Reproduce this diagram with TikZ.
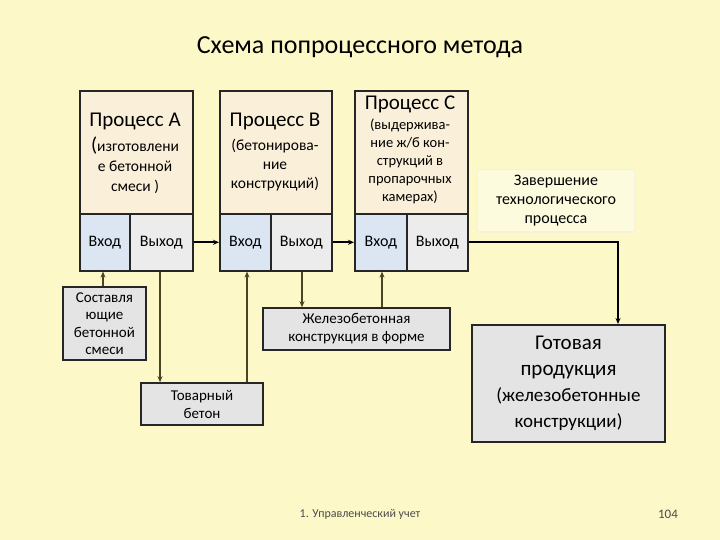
\documentclass[tikz,border=0pt]{standalone}
\usepackage{fontspec}
\setmainfont{Carlito}
\usetikzlibrary{arrows.meta}
\definecolor{bg}{HTML}{FCF8C8}
\definecolor{beige}{HTML}{FAEFD8}
\definecolor{inb}{HTML}{DCE6F2}
\definecolor{outg}{HTML}{ECECEC}
\definecolor{marble}{HTML}{E4E4E4}
\definecolor{olive}{HTML}{4A4520}
\begin{document}
\begin{tikzpicture}[x=1pt,y=-1pt,
 box/.style={draw=black!85,line width=1.6pt,inner sep=0pt},
 top/.style={box,fill=beige,align=center},
 io/.style={box,font=\fontsize{16}{18}\selectfont},
 mb/.style={box,fill=marble,align=center},
 con/.style={olive,line width=1.8pt,-{Stealth[length=6pt,width=5pt]}}]
\fill[bg] (0,0) rectangle (720,540);
\useasboundingbox (0,0) rectangle (720,540);
\node[font=\fontsize{26}{30}\selectfont] (title) at (360,47) {Схема попроцессного метода};
% Process A
\node[top,minimum width=113pt,minimum height=123pt,anchor=north west] (A) at (79,90) {};
\node[align=center,font=\fontsize{15.5}{20}\selectfont] (At) at (135,153) {{\fontsize{21}{24}\selectfont Процесс А}\\[5pt] {\fontsize{20}{20}\selectfont(}изготовлени\\е бетонной\\смеси )};
\node[io,fill=inb,minimum width=50pt,minimum height=57pt,anchor=north west] (Ai) at (79,213) {Вход};
\node[io,fill=outg,minimum width=63pt,minimum height=57pt,anchor=north west] (Ao) at (129,213) {Выход};
% Process B
\node[top,minimum width=112pt,minimum height=123pt,anchor=north west] (B) at (219,90) {};
\node[align=center,font=\fontsize{15.5}{19}\selectfont] (Bt) at (275,152) {{\fontsize{21}{24}\selectfont Процесс В}\\[5pt] (бетонирова-\\ние\\конструкций)};
\node[io,fill=inb,minimum width=51pt,minimum height=57pt,anchor=north west] (Bi) at (219,213) {Вход};
\node[io,fill=outg,minimum width=61pt,minimum height=57pt,anchor=north west] (Bo) at (270,213) {Выход};
% Process C
\node[top,minimum width=113pt,minimum height=123pt,anchor=north west] (C) at (354,90) {};
\node[align=center,font=\fontsize{14.5}{18}\selectfont] (Ct) at (410,150) {{\fontsize{21}{24}\selectfont Процесс С}\\[2pt] (выдержива-\\ние ж/б кон-\\струкций в\\пропарочных\\камерах)};
\node[io,fill=inb,minimum width=52pt,minimum height=57pt,anchor=north west] (Ci) at (354,213) {Вход};
\node[io,fill=outg,minimum width=61pt,minimum height=57pt,anchor=north west] (Co) at (406,213) {Выход};
% others
\node[draw=beige,fill=bg!60!white,line width=1pt,minimum width=157pt,minimum height=62pt,align=center,font=\fontsize{16}{19}\selectfont] (Z) at (556,201) {Завершение\\технологического\\процесса};
\node[mb,minimum width=83pt,minimum height=73pt,font=\fontsize{15}{17.5}\selectfont] (S) at (104.5,323.5) {Составля\\ющие\\бетонной\\смеси};
\node[mb,minimum width=122pt,minimum height=42pt,font=\fontsize{15}{18}\selectfont] (T) at (202,404) {Товарный\\бетон};
\node[mb,minimum width=187pt,minimum height=42pt,font=\fontsize{15}{18}\selectfont] (Zh) at (356.5,329) {Железобетонная\\конструкция в форме};
\node[mb,minimum width=193pt,minimum height=117pt,line width=2pt,font=\fontsize{21}{26}\selectfont] (G) at (568.5,383.5) {Готовая\\продукция\\{\fontsize{19}{23}\selectfont(железобетонные}\\{\fontsize{19}{23}\selectfont конструкции)}};
% connectors
\draw[con,black] (Ao.east) -- (Bi.west);
\draw[con,black] (Bo.east) -- (Ci.west);
\draw[con,black] (Co.east) -| (G.north -| 618,0);
\draw[con] (S.north -| 103,0) -- (Ai.south -| 103,0);
\draw[con] (Ao.south -| 160,0) -- (T.north -| 160,0);
\draw[con] (T.north -| 247,0) -- (Bi.south -| 247,0);
\draw[con] (Bo.south -| 302,0) -- (Zh.north -| 302,0);
\draw[con] (Zh.north -| 382,0) -- (Ci.south -| 382,0);
\node[font=\fontsize{12}{14}\selectfont,text=black!70] (f1) at (360,514) {1. Управленческий учет};
\node[font=\fontsize{13}{14}\selectfont,text=black!70] (f2) at (668,514) {104};
\end{tikzpicture}
\end{document}
